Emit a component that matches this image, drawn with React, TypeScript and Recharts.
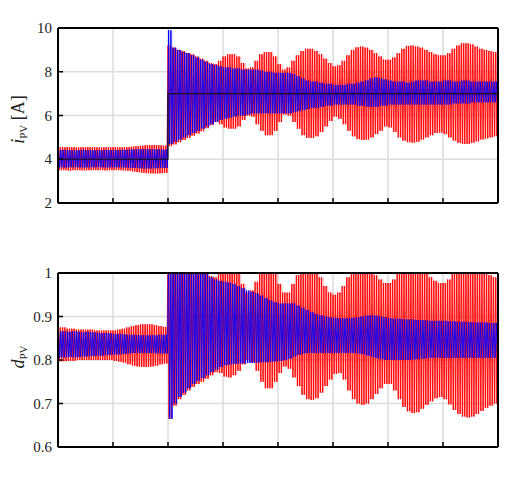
import React from "react";
import { ComposedChart, Line, Area, XAxis, YAxis, CartesianGrid } from "recharts";

// envelope of each oscillating trace, one value per 1/12 of a grid division
const iRedHi = [
  4.55, 4.55, 4.56, 4.55, 4.54, 4.55, 4.56, 4.55, 4.55, 4.54, 4.55, 4.55,
  4.55, 4.55, 4.55, 4.56, 4.58, 4.6, 4.62, 4.64, 4.65, 4.65, 4.64, 4.62,
  9.2, 9.1, 9.0, 8.95, 8.85, 8.8, 8.7, 8.6, 8.5, 8.4, 8.35, 8.5,
  8.7, 8.8, 8.8, 8.7, 8.4, 8.15, 8.2, 8.5, 8.8, 8.9, 8.9, 8.7,
  8.35, 8.1, 8.2, 8.5, 8.75, 8.95, 9.05, 9.05, 8.95, 8.8, 8.6, 8.4,
  8.25, 8.3, 8.5, 8.75, 9.0, 9.12, 9.15, 9.1, 9.0, 8.85, 8.7, 8.55,
  8.55, 8.65, 8.85, 9.05, 9.18, 9.2, 9.15, 9.1, 9.0, 8.9, 8.8, 8.75,
  8.75, 8.85, 9.05, 9.2, 9.3, 9.3, 9.25, 9.15, 9.05, 9.0, 8.95, 8.9,
  8.88,
];
const iRedLo = [
  3.5, 3.5, 3.48, 3.5, 3.5, 3.49, 3.5, 3.5, 3.5, 3.5, 3.49, 3.5,
  3.5, 3.5, 3.49, 3.47, 3.44, 3.41, 3.38, 3.36, 3.35, 3.35, 3.36, 3.38,
  4.6, 4.68, 4.78, 4.88, 4.98, 5.08, 5.18, 5.28, 5.42, 5.56, 5.72, 5.6,
  5.45, 5.4, 5.4, 5.5, 5.8, 6.0, 5.95, 5.6, 5.3, 5.1, 5.1, 5.3,
  5.7, 6.05, 6.0, 5.7, 5.4, 5.1, 4.98, 4.97, 5.05, 5.25, 5.5, 5.75,
  5.95, 5.85, 5.6, 5.3, 5.05, 4.92, 4.88, 4.9, 5.0, 5.15, 5.3, 5.5,
  5.45, 5.25, 5.0, 4.85, 4.78, 4.76, 4.8, 4.9, 5.0, 5.1, 5.2, 5.22,
  5.15, 5.0, 4.85, 4.75, 4.7, 4.7, 4.75, 4.82, 4.9, 4.95, 5.0, 5.05,
  5.07,
];
const iBlueHi = [
  4.42, 4.43, 4.42, 4.41, 4.42, 4.43, 4.42, 4.42, 4.41, 4.42, 4.43, 4.42,
  4.42, 4.42, 4.43, 4.44, 4.45, 4.46, 4.46, 4.46, 4.46, 4.45, 4.45, 4.44,
  9.9, 9.1, 9.0, 8.9, 8.85, 8.75, 8.65, 8.55, 8.45, 8.35, 8.3, 8.25,
  8.2, 8.2, 8.15, 8.15, 8.1, 8.1, 8.1, 8.1, 8.05, 8.0, 8.0, 7.95,
  7.95, 7.95, 7.95, 7.9, 7.8, 7.7, 7.6, 7.55, 7.55, 7.5, 7.45, 7.45,
  7.4, 7.4, 7.4, 7.45, 7.45, 7.5, 7.55, 7.6, 7.7, 7.75, 7.7, 7.65,
  7.6, 7.55, 7.55, 7.55, 7.5, 7.55, 7.6, 7.6, 7.6, 7.55, 7.55, 7.55,
  7.6, 7.6, 7.55, 7.55, 7.6, 7.6, 7.55, 7.55, 7.55, 7.55, 7.55, 7.55,
  7.55,
];
const iBlueLo = [
  3.63, 3.62, 3.63, 3.64, 3.63, 3.62, 3.63, 3.63, 3.64, 3.63, 3.62, 3.63,
  3.63, 3.63, 3.62, 3.61, 3.6, 3.59, 3.58, 3.58, 3.58, 3.59, 3.6, 3.6,
  4.7, 4.8, 4.9, 5.0, 5.1, 5.2, 5.3, 5.4, 5.5, 5.6, 5.7, 5.8,
  5.85, 5.9, 5.95, 6.0, 6.0, 6.05, 6.1, 6.1, 6.1, 6.1, 6.1, 6.1,
  6.1, 6.1, 6.1, 6.15, 6.2, 6.25, 6.3, 6.35, 6.35, 6.4, 6.45, 6.45,
  6.5, 6.5, 6.5, 6.5, 6.5, 6.45, 6.45, 6.4, 6.4, 6.4, 6.45, 6.45,
  6.5, 6.5, 6.5, 6.5, 6.5, 6.5, 6.5, 6.5, 6.5, 6.5, 6.5, 6.5,
  6.5, 6.5, 6.55, 6.55, 6.55, 6.55, 6.6, 6.6, 6.6, 6.6, 6.6, 6.6,
  6.6,
];

const dRedHi = [
  0.875, 0.875, 0.872, 0.872, 0.87, 0.87, 0.87, 0.87, 0.868, 0.868, 0.868, 0.868,
  0.868, 0.87, 0.872, 0.875, 0.878, 0.88, 0.882, 0.882, 0.882, 0.88, 0.878, 0.876,
  1.05, 1.05, 1.04, 1.04, 1.03, 1.03, 1.02, 1.01, 1.0, 0.993, 0.99, 1.0,
  1.02, 1.03, 1.02, 1.0, 0.975, 0.955, 0.96, 0.98, 1.0, 1.02, 1.02, 1.0,
  0.975, 0.955, 0.955, 0.975, 0.995, 1.01, 1.02, 1.02, 1.01, 0.99, 0.97, 0.955,
  0.95, 0.955, 0.97, 0.99, 1.01, 1.025, 1.03, 1.025, 1.01, 0.995, 0.985, 0.977,
  0.977, 0.985, 1.0, 1.015, 1.03, 1.035, 1.03, 1.02, 1.0, 0.99, 0.982, 0.977,
  0.977, 0.985, 1.0, 1.02, 1.035, 1.04, 1.035, 1.025, 1.01, 1.0, 0.995, 0.99,
  0.99,
];
const dRedLo = [
  0.797, 0.797, 0.798, 0.798, 0.8, 0.8, 0.8, 0.8, 0.8, 0.8, 0.8, 0.8,
  0.798, 0.796, 0.794, 0.79, 0.787, 0.785, 0.784, 0.784, 0.785, 0.787, 0.79, 0.792,
  0.665, 0.695, 0.71, 0.72, 0.73, 0.738, 0.745, 0.75, 0.757, 0.765, 0.772, 0.77,
  0.762, 0.76, 0.765, 0.775, 0.79, 0.8, 0.795, 0.775, 0.75, 0.735, 0.735, 0.75,
  0.77, 0.785, 0.78, 0.76, 0.74, 0.72, 0.71, 0.708, 0.712, 0.725, 0.74, 0.755,
  0.768, 0.77, 0.755, 0.73, 0.71, 0.7, 0.697, 0.7, 0.71, 0.722, 0.735, 0.745,
  0.745, 0.73, 0.71, 0.692, 0.682, 0.678, 0.68, 0.688, 0.697, 0.705, 0.712, 0.715,
  0.71, 0.698, 0.685, 0.676, 0.67, 0.668, 0.67, 0.676, 0.683, 0.69, 0.695, 0.7,
  0.7,
];
const dBlueHi = [
  0.866, 0.866, 0.865, 0.866, 0.865, 0.864, 0.865, 0.864, 0.863, 0.862, 0.862, 0.861,
  0.86, 0.86, 0.859, 0.858, 0.858, 0.857, 0.857, 0.857, 0.857, 0.857, 0.858, 0.858,
  1.05, 1.05, 1.04, 1.04, 1.03, 1.03, 1.02, 1.01, 1.0, 0.99, 0.985, 0.982,
  0.98, 0.978, 0.975, 0.97, 0.965, 0.96, 0.957, 0.953, 0.948, 0.942, 0.937, 0.933,
  0.93, 0.93, 0.93, 0.93, 0.925, 0.92, 0.915, 0.91, 0.906, 0.903, 0.9, 0.898,
  0.897, 0.896, 0.896, 0.896, 0.897, 0.898, 0.9, 0.902, 0.903, 0.902, 0.9, 0.898,
  0.896, 0.895, 0.895, 0.894, 0.893, 0.893, 0.892, 0.892, 0.891, 0.89, 0.89, 0.89,
  0.89, 0.889, 0.889, 0.888, 0.888, 0.887, 0.887, 0.886, 0.886, 0.886, 0.885, 0.885,
  0.885,
];
const dBlueLo = [
  0.806, 0.806, 0.807, 0.806, 0.807, 0.808, 0.808, 0.809, 0.81, 0.81, 0.811, 0.812,
  0.813, 0.813, 0.814, 0.815, 0.816, 0.816, 0.816, 0.816, 0.816, 0.815, 0.815, 0.815,
  0.665, 0.7, 0.715, 0.725, 0.735, 0.745, 0.752, 0.758, 0.765, 0.772, 0.778, 0.784,
  0.788, 0.79, 0.791, 0.792, 0.792, 0.793, 0.793, 0.794, 0.795, 0.795, 0.796, 0.797,
  0.798, 0.8, 0.803, 0.808, 0.812, 0.815, 0.816, 0.816, 0.816, 0.816, 0.816, 0.816,
  0.816, 0.816, 0.816, 0.816, 0.816, 0.815, 0.813, 0.81, 0.807, 0.804, 0.802, 0.8,
  0.8, 0.8, 0.8, 0.8, 0.8, 0.801, 0.802, 0.803, 0.804, 0.805, 0.805, 0.805,
  0.805, 0.805, 0.805, 0.805, 0.805, 0.805, 0.805, 0.805, 0.805, 0.805, 0.805, 0.805,
  0.805,
];

// reference current (black)
const refT = [0, 2, 2, 8];
const refI = [4, 4, 7, 7];

const xTicks = [0, 1, 2, 3, 4, 5, 6, 7, 8];
const iTicks = [2, 4, 6, 8, 10];
const dTicks = [0.6, 0.7, 0.8, 0.9, 1];

const PER_DIV = 12; // envelope samples per grid division
const SWINGS = 2; // up/down swings drawn per envelope sample
const FONT = "'Liberation Serif', 'Times New Roman', 'DejaVu Serif', serif";

const zigzag = (hi: number[], lo: number[], phase: number) =>
  hi.flatMap((h, k) => {
    const pts: { t: number; v: number }[] = [];
    for (let s = 0; s < SWINGS; s++) {
      pts.push({ t: (k + (s + phase) / SWINGS) / PER_DIV, v: h });
      pts.push({ t: (k + (s + phase + 0.5) / SWINGS) / PER_DIV, v: lo[k] });
    }
    return pts;
  });
const band = (hi: number[], lo: number[]) =>
  hi.map((h, k) => ({ t: k / PER_DIV, r: [lo[k], h] }));

const BottomTick = (p: any) => (
  <line x1={p.x} x2={p.x} y1={p.y} y2={p.y - 5} stroke="#000" strokeWidth={1.5} />
);
const TopTick = (p: any) => (
  <line x1={p.x} x2={p.x} y1={p.y} y2={p.y + 5} stroke="#000" strokeWidth={1.5} />
);
const LeftTick = (p: any) => (
  <g>
    <line x1={p.x} x2={p.x + 5} y1={p.y} y2={p.y} stroke="#000" strokeWidth={1.5} />
    <text x={p.x - 6} y={p.y + 5} textAnchor="end" fontSize={15} fontFamily={FONT} fill="#222">
      {p.payload.value}
    </text>
  </g>
);
const RightTick = (p: any) => (
  <line x1={p.x - 5} x2={p.x} y1={p.y} y2={p.y} stroke="#000" strokeWidth={1.5} />
);

const YTitle = ({ viewBox, sym, unit, shift }: any) => {
  const cx = 24;
  const cy = viewBox.y + viewBox.height / 2 + shift;
  return (
    <text
      x={cx}
      y={cy}
      transform={`rotate(-90 ${cx} ${cy})`}
      textAnchor="middle"
      fontFamily={FONT}
      fontSize={18}
      fill="#222"
    >
      <tspan fontStyle="italic">{sym}</tspan>
      <tspan fontSize={11} dy={3}>PV</tspan>
      {unit ? <tspan dy={-3}>{" " + unit}</tspan> : null}
    </text>
  );
};

const frame = { stroke: "#000", strokeWidth: 2 };

const Panel = ({ height, top, bottom, domain, ticks, sym, unit, shift, red, blue, refLine }: any) => (
  <ComposedChart width={506} height={height} margin={{ top, right: 0, bottom, left: 0 }}>
    <CartesianGrid xAxisId="b" yAxisId="l" stroke="#dcdcdc" strokeWidth={1.5} />
    <XAxis xAxisId="b" type="number" dataKey="t" domain={[0, 8]} ticks={xTicks} allowDataOverflow
      height={2} tickSize={0} tickMargin={0} tickLine={false} axisLine={frame} tick={<BottomTick />} />
    <XAxis xAxisId="top" orientation="top" type="number" domain={[0, 8]} ticks={xTicks}
      height={2} tickSize={0} tickMargin={0} tickLine={false} axisLine={frame} tick={<TopTick />} />
    <YAxis yAxisId="l" type="number" domain={domain} ticks={ticks} allowDataOverflow width={58}
      tickSize={0} tickMargin={0} tickLine={false} axisLine={frame} tick={<LeftTick />}
      label={<YTitle sym={sym} unit={unit} shift={shift} />} />
    <YAxis yAxisId="r" orientation="right" type="number" domain={domain} ticks={ticks} width={8}
      tickSize={0} tickMargin={0} tickLine={false} axisLine={frame} tick={<RightTick />} />
    <Area xAxisId="b" yAxisId="l" data={band(red[0], red[1])} dataKey="r" type="stepAfter"
      stroke="none" fill="#ff0000" fillOpacity={0.2} isAnimationActive={false} />
    <Line xAxisId="b" yAxisId="l" data={zigzag(red[0], red[1], 0)} dataKey="v" type="linear"
      stroke="#ff0000" strokeWidth={0.9} dot={false} isAnimationActive={false} />
    <Area xAxisId="b" yAxisId="l" data={band(blue[0], blue[1])} dataKey="r" type="stepAfter"
      stroke="none" fill="#0000ff" fillOpacity={0.2} isAnimationActive={false} />
    <Line xAxisId="b" yAxisId="l" data={zigzag(blue[0], blue[1], 0.25)} dataKey="v" type="linear"
      stroke="#0000ff" strokeWidth={0.9} dot={false} isAnimationActive={false} />
    {refLine ? (
      <Line xAxisId="b" yAxisId="l" data={refLine} dataKey="v" type="linear"
        stroke="#111" strokeWidth={1.2} dot={false} isAnimationActive={false} />
    ) : null}
  </ComposedChart>
);

export default function App() {
  const ref = refT.map((t, i) => ({ t, v: refI[i] }));
  return (
    <div style={{ position: "absolute", left: 0, top: 0, width: 506, height: 477, background: "#fff" }}>
      <div style={{ position: "absolute", left: 0, top: 0 }}>
        <Panel height={220} top={26} bottom={15} domain={[2, 10]} ticks={iTicks} sym="i" unit="[A]"
          shift={4} red={[iRedHi, iRedLo]} blue={[iBlueHi, iBlueLo]} refLine={ref} />
      </div>
      <div style={{ position: "absolute", left: 0, top: 240 }}>
        <Panel height={237} top={31} bottom={28} domain={[0.6, 1]} ticks={dTicks} sym="d"
          shift={-3} red={[dRedHi, dRedLo]} blue={[dBlueHi, dBlueLo]} />
      </div>
    </div>
  );
}
